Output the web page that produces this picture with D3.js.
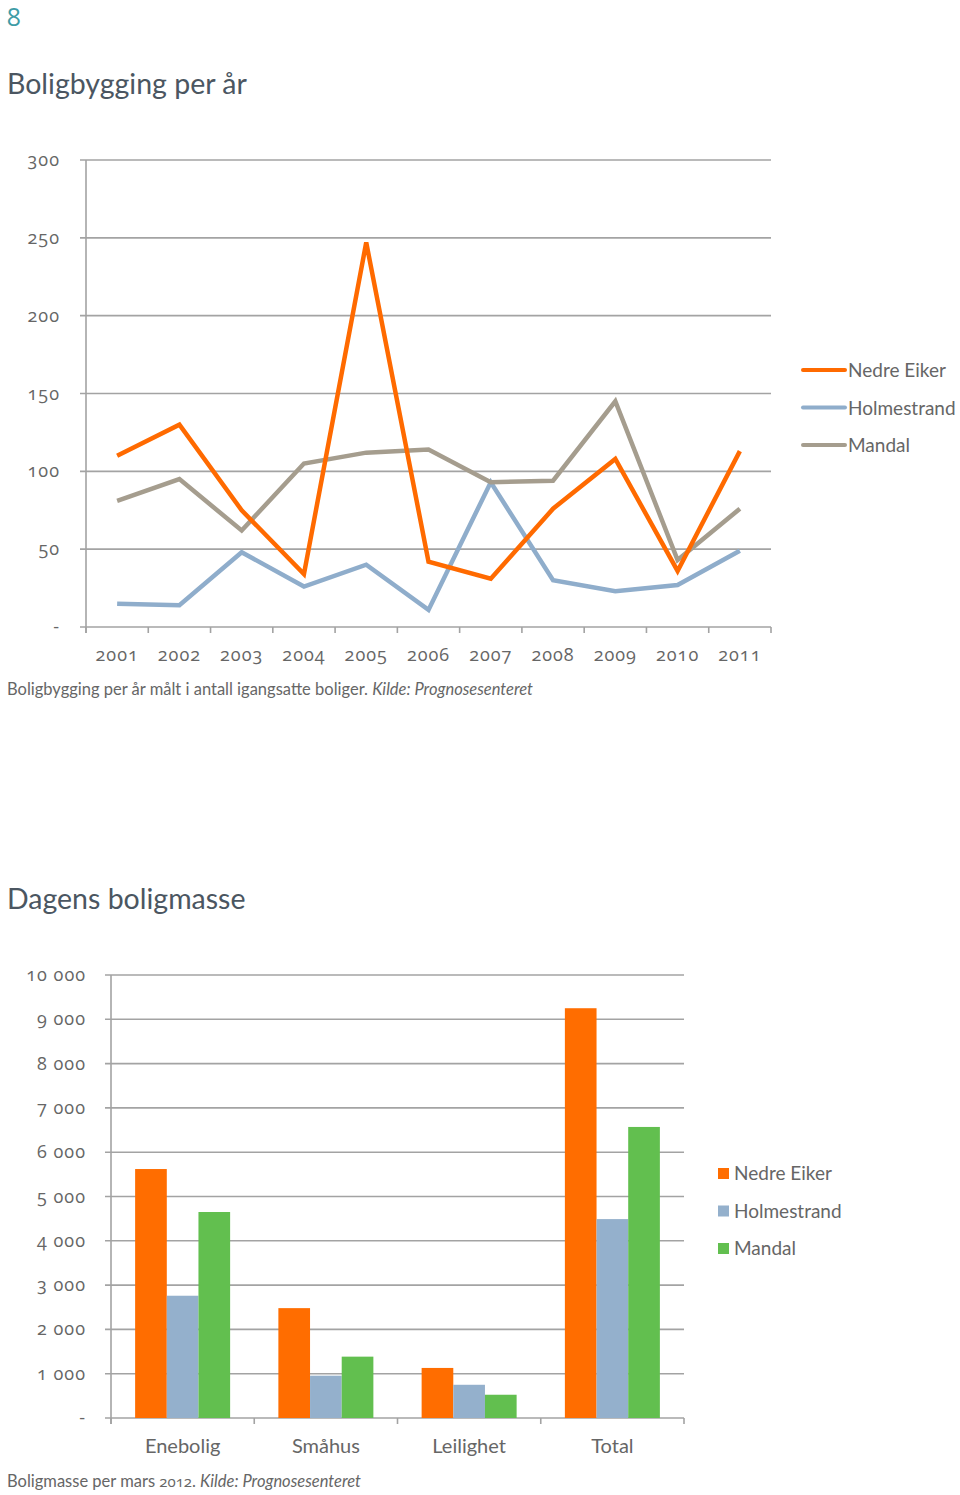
<!DOCTYPE html>
<html><head><meta charset="utf-8">
<script src="https://cdn.jsdelivr.net/npm/d3@7"></script>
<style>
body{margin:0;background:#fff;}
svg text{font-family:Lato,"Open Sans",sans-serif;}
svg .num{font-family:"Open Sans","Noto Sans",sans-serif;font-variant-numeric:oldstyle-nums;font-feature-settings:"onum" 1;}
</style></head>
<body><svg id="c" width="960" height="1495"></svg>
<script>
// ---- Data: line chart ----
const years = ["2001","2002","2003","2004","2005","2006","2007","2008","2009","2010","2011"];
const nedreEikerLine = [110,130,75,34,247,42,31,76,108,36,113];
const holmestrandLine = [15,14,48,26,40,11,93,30,23,27,49];
const mandalLine = [81,95,62,105,112,114,93,94,145,43,76];
const lineTicks = [0,50,100,150,200,250,300];
const seriesNames = ["Nedre Eiker","Holmestrand","Mandal"];

// ---- Data: bar chart ----
const barCategories = ["Enebolig","Småhus","Leilighet","Total"];
const nedreEikerBars = [5620,2480,1130,9250];
const holmestrandBars = [2760,955,750,4490];
const mandalBars = [4650,1385,525,6570];
const barTicks = [0,1000,2000,3000,4000,5000,6000,7000,8000,9000,10000];

const lineColors = ["#FF6A00","#8FADCB","#A59D8E"];
const barColors = ["#FF6D00","#94B0CC","#62BF4F"];
const gridColor = "#A3A3A3";
const textColor = "#666";

const svg = d3.select("#c");

// page number & titles
svg.append("text").attr("class","num").attr("x",7).attr("y",26).attr("font-size",25).attr("fill","#3E9CA6").text("8");
svg.append("text").attr("x",7).attr("y",94).attr("font-size",28.5).attr("fill","#4B5661").text("Boligbygging per år");
svg.append("text").attr("x",7).attr("y",909).attr("font-size",28.5).attr("fill","#4B5661").text("Dagens boligmasse");

// ---------- Line chart ----------
{
  const x0 = 86, x1 = 771, yTop = 160, yBot = 627;
  const x = d3.scaleBand().domain(years).range([x0,x1]);
  const y = d3.scaleLinear().domain([0,300]).range([yBot,yTop]);
  const g = svg.append("g");
  g.selectAll("line.grid").data(lineTicks).join("line")
    .attr("x1",80).attr("x2",x1).attr("y1",d=>y(d)).attr("y2",d=>y(d))
    .attr("stroke",gridColor).attr("stroke-width",1.6);
  g.append("line").attr("x1",x0).attr("x2",x0).attr("y1",yTop).attr("y2",yBot+6)
    .attr("stroke",gridColor).attr("stroke-width",1.6);
  const tickPos = years.map(d=>x(d)).concat([x1]);
  g.selectAll("line.xt").data(tickPos).join("line")
    .attr("x1",d=>d).attr("x2",d=>d).attr("y1",yBot).attr("y2",yBot+6)
    .attr("stroke",gridColor).attr("stroke-width",1.6);
  g.selectAll("text.yl").data(lineTicks).join("text").attr("class","num")
    .attr("x",60).attr("y",d=>y(d)+6).attr("text-anchor","end")
    .attr("font-size",18).attr("fill",textColor).attr("letter-spacing",1)
    .text(d=>d===0?"-":d);
  g.selectAll("text.xl").data(years).join("text").attr("class","num")
    .attr("x",d=>x(d)+x.bandwidth()/2).attr("y",661).attr("text-anchor","middle")
    .attr("font-size",18).attr("fill",textColor).attr("letter-spacing",1)
    .text(d=>d);
  const series = [nedreEikerLine, holmestrandLine, mandalLine];
  const line = d3.line().x((d,i)=>x(years[i])+x.bandwidth()/2).y(d=>y(d));
  [1,2,0].forEach(k=>{
    g.append("path").attr("d",line(series[k])).attr("fill","none")
      .attr("stroke",lineColors[k]).attr("stroke-width",4.5).attr("stroke-linejoin","miter");
  });
  const lg = g.append("g");
  seriesNames.forEach((n,i)=>{
    const yy = 370 + i*37.5;
    lg.append("line").attr("x1",803).attr("x2",845).attr("y1",yy).attr("y2",yy)
      .attr("stroke",lineColors[i]).attr("stroke-width",4).attr("stroke-linecap","round");
    lg.append("text").attr("x",848).attr("y",yy+7).attr("font-size",19).attr("fill",textColor).text(n);
  });
  const cap = svg.append("text").attr("x",7).attr("y",695).attr("font-size",16.5).attr("fill",textColor);
  cap.append("tspan").text("Boligbygging per år målt i antall igangsatte boliger. ");
  cap.append("tspan").attr("font-style","italic").text("Kilde: Prognosesenteret");
}

// ---------- Bar chart ----------
{
  const x0 = 111, x1 = 684, yTop = 975, yBot = 1418;
  const x = d3.scaleBand().domain(barCategories).range([x0,x1]).paddingInner(0).paddingOuter(0);
  const y = d3.scaleLinear().domain([0,10000]).range([yBot,yTop]);
  const inner = d3.scaleBand().domain([0,1,2]).range([0,95]);
  const g = svg.append("g");
  g.selectAll("line.grid").data(barTicks).join("line")
    .attr("x1",105).attr("x2",x1).attr("y1",d=>y(d)).attr("y2",d=>y(d))
    .attr("stroke",gridColor).attr("stroke-width",1.6);
  g.append("line").attr("x1",x0).attr("x2",x0).attr("y1",yTop).attr("y2",yBot+6)
    .attr("stroke",gridColor).attr("stroke-width",1.6);
  const tickPos = barCategories.map(d=>x(d)).concat([x1]);
  g.selectAll("line.xt").data(tickPos).join("line")
    .attr("x1",d=>d).attr("x2",d=>d).attr("y1",yBot).attr("y2",yBot+6)
    .attr("stroke",gridColor).attr("stroke-width",1.6);
  const fmt = d => d===0 ? "-" : d3.format(",")(d).replace(/,/g," ");
  g.selectAll("text.yl").data(barTicks).join("text").attr("class","num")
    .attr("x",86).attr("y",d=>y(d)+6).attr("text-anchor","end")
    .attr("font-size",18).attr("fill",textColor).attr("letter-spacing",1)
    .text(fmt);
  const series = [nedreEikerBars, holmestrandBars, mandalBars];
  const off = (x.bandwidth()-95)/2;
  series.forEach((vals,k)=>{
    g.selectAll("rect.s"+k).data(vals).join("rect")
      .attr("x",(d,i)=>x(barCategories[i])+off+inner(k))
      .attr("width",inner.bandwidth())
      .attr("y",d=>y(d)).attr("height",d=>yBot-y(d))
      .attr("fill",barColors[k]);
  });
  g.selectAll("text.xl").data(barCategories).join("text")
    .attr("x",d=>x(d)+x.bandwidth()/2).attr("y",1453).attr("text-anchor","middle")
    .attr("font-size",20).attr("fill",textColor).text(d=>d);
  seriesNames.forEach((n,i)=>{
    const yy = 1173 + i*37.5;
    g.append("rect").attr("x",718).attr("y",yy-5).attr("width",11).attr("height",11).attr("fill",barColors[i]);
    g.append("text").attr("x",734).attr("y",yy+7).attr("font-size",19).attr("fill",textColor).text(n);
  });
  const cap = svg.append("text").attr("x",7).attr("y",1487).attr("font-size",16.5).attr("fill",textColor);
  cap.append("tspan").text("Boligmasse per mars ");
  cap.append("tspan").attr("class","num").attr("font-size",15).text("2012");
  cap.append("tspan").text(". ");
  cap.append("tspan").attr("font-style","italic").text("Kilde: Prognosesenteret");
}
</script></body></html>
